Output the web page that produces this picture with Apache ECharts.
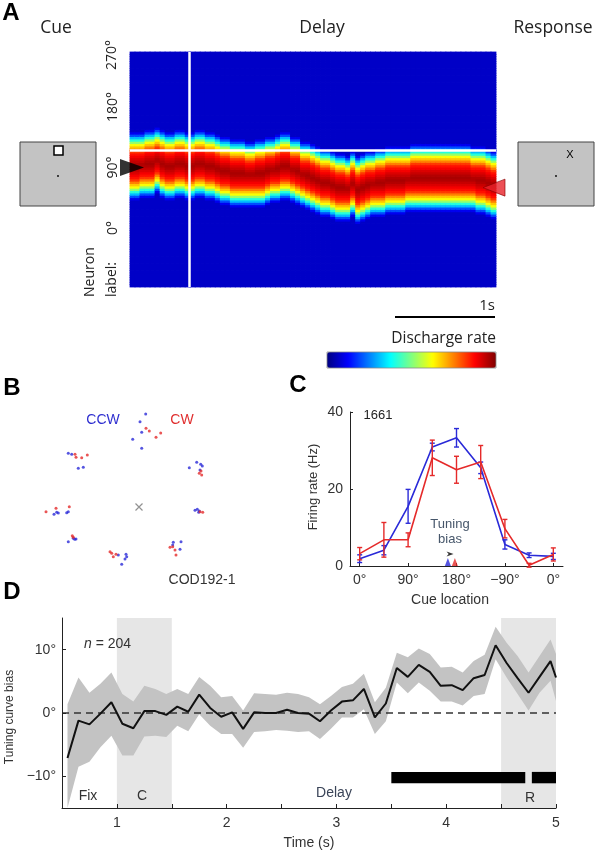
<!DOCTYPE html>
<html><head><meta charset="utf-8">
<script src="https://cdn.jsdelivr.net/npm/echarts@6/dist/echarts.min.js"></script>
<style>html,body{margin:0;padding:0;background:#fff}#c{width:596px;height:853px}</style>
</head><body><div id="c"></div>
<script>
// ---------------- Panel A: population activity ----------------
const aTimeStep = 0.05;             // s per time bin
const aBinDeg = 3.5;                // deg per neuron-label bin
const aDegMin = -88, aDegMax = 262;
// centre (deg) of the activity bump in each 50 ms bin
const bandCenterDeg = [92,93,94,95,97,101,97,92,92,96,96,92,93,96,95,93,91,88,86,85,83,82,81,80,80,81,83,85,87,89,91,92,87,84,80,77,75,72,69,67,64,62,60,59,66,58,62,64,66,67,69,70,70,71,72,73,74,75,75,76,75,74,74,75,76,76,75,74,73,72,70,67,64];
// discharge level as a function of distance from the bump centre (steps of aBinDeg)
const bumpProfile = [0.96,0.95,0.93,0.91,0.885,0.86,0.82,0.75,0.68,0.62,0.52,0.41,0.31,0.20,0.11];
const baseline = 0.07;
const cueDeg = 90, responseDeg = 60, cueEndTime = 0.59, refLineDeg = 115;
const aTickDeg = [0, 90, 180];

// ---------------- Panel B: saccade end points (relative to fixation) ----------------
const ccwPoints = [[6.7,93],[1,85.3],[2.7,74.7],[-6.3,67.7],[2.7,58.7],[-70.7,53.7],[-67.3,52.7],[-60.7,38.7],[-55.7,39.7],[50.3,39.3],[57.7,44.7],[61.7,42.7],[63.3,41],[61,37],[-85,-7.3],[-82.3,-5.3],[-80.7,-6],[-72.3,-5.7],[-70.7,-4.7],[56,-3.3],[58.3,-2.3],[60.3,-4],[59.7,-5.3],[-70.7,-34.7],[-65.7,-31.3],[-64.3,-32.3],[-63,-32],[-20.7,-48],[-13,-47.3],[-14,-52],[-17.3,-57.3],[-12.3,-49.7],[34.3,-35.3],[42,-34.7],[41,-42.3],[33.7,-38]];
const cwPoints = [[7,78.7],[10.3,76],[17,69.7],[21.7,74],[-64,52.7],[-63,49.7],[-57.3,49.3],[-51.7,52],[60.3,33.7],[62.7,32],[62,36],[-93,-4.7],[-83,-1.3],[-69.7,0.3],[61,-4.7],[63.7,-5.3],[-66.7,-28.7],[-65.7,-30.3],[-29,-44.7],[-27.3,-46.3],[-25.7,-49.7],[-23,-47.3],[31,-40.3],[33.7,-39.7],[36,-43],[37,-48]];

// ---------------- Panel C: tuning curves ----------------
const cueLocDeg = [0,45,90,135,180,225,270,315,360];
const cueTickValues = [0,90,180,270,360];
const cueTickLabels = ['0°','90°','180°','−90°','0°'];
const ccwRate = [1.9,4.1,15.5,30.9,33.3,25.5,5.6,2.8,2.5];
const ccwErr  = [1.0,1.2,4.4,1.0,2.4,1.5,1.2,0.6,0.8];
const cwRate  = [3.2,6.8,6.8,28.1,25.0,27.0,9.7,0.2,3.0];
const cwErr   = [1.6,4.5,1.8,4.6,3.5,4.3,2.4,0.5,1.7];
const ccwBiasDeg = 164, cwBiasDeg = 177, biasArrowDeg = 168;

// ---------------- Panel D: tuning curve bias over time ----------------
const biasTime  = [0.55,0.65,0.75,0.85,0.95,1.05,1.15,1.25,1.35,1.45,1.55,1.65,1.75,1.85,1.95,2.05,2.15,2.25,2.35,2.45,2.55,2.65,2.75,2.85,2.95,3.05,3.15,3.25,3.35,3.45,3.55,3.65,3.75,3.85,3.95,4.05,4.15,4.25,4.35,4.45,4.55,4.65,4.75,4.85,4.95,5.0];
const biasMean  = [-7.1,-1.2,-1.8,-0.1,1.7,-1.7,-2.4,0.3,0.3,-0.3,1.0,0.2,2.9,0.8,-0.6,0.1,-2.5,0.1,0.0,0.0,0.5,0.0,-0.1,-1.3,0.4,1.8,2.0,3.8,-0.7,1.5,7.1,5.7,7.6,6.5,4.3,4.4,3.6,5.5,6.0,10.7,7.9,5.5,3.2,5.7,8.2,5.6];
const biasUpper = [1.4,5.6,3.2,4.6,6.4,3.0,1.8,4.3,3.8,3.0,3.8,3.0,5.7,4.3,2.5,2.7,0.4,3.1,3.0,2.9,3.2,3.0,2.5,1.4,2.7,4.1,4.6,6.2,1.7,4.0,9.5,8.8,10.2,9.3,7.2,7.3,6.4,8.2,9.2,13.6,11.1,9.0,6.4,9.0,11.6,9.3];
const biasLower = [-15.5,-8.5,-7.7,-5.4,-3.6,-6.7,-6.7,-3.7,-3.6,-3.8,-2.0,-2.9,-0.2,-2.0,-3.3,-3.3,-5.5,-3.0,-2.9,-2.7,-2.8,-3.0,-2.9,-4.1,-2.5,-0.7,-0.7,0.6,-3.3,-1.3,4.8,3.1,4.8,3.5,1.8,1.8,1.2,2.7,3.0,8.5,5.6,3.0,0.4,3.2,5.1,1.9];
const epochShade = [[1.0,1.5],[4.5,5.0]];
const sigBars = [[3.5,4.72],[4.78,5.0]];
const sigBarY = [-9.3,-11.1];
const dTickLabels = [1,2,3,4,5];
const dMinorTicks = [1,1.5,2,2.5,3,3.5,4,4.5,5];
const dYTicks = [-10,0,10];

// ---------- build heatmap cells (lookup of profile by distance) ----------
const timeCats = bandCenterDeg.map((_, k) => (k * aTimeStep).toFixed(2));
const nDegBins = Math.round((aDegMax - aDegMin) / aBinDeg);
const degCats = [];
for (let j = 0; j < nDegBins; j++) degCats.push((aDegMin + aBinDeg * (j + 0.5)).toFixed(2));
const heatData = [];
for (let k = 0; k < bandCenterDeg.length; k++) {
  for (let j = 0; j < nDegBins; j++) {
    const d = Math.abs(parseFloat(degCats[j]) - bandCenterDeg[k]);
    const idx = Math.round(d / aBinDeg);
    heatData.push([k, j, idx < bumpProfile.length ? bumpProfile[idx] : baseline]);
  }
}
const jet = ['#000080','#0000ff','#0080ff','#00ffff','#80ff80','#ffff00','#ff8000','#ff0000','#800000'];

const FA = 'Open Sans', FS = 'Liberation Sans';
const blue = '#2a2ad8', red = '#e52a2a';

function errRender(rates, errs, color) {
  return function (params, api) {
    const i = params.dataIndex, x = cueLocDeg[i];
    const t = api.coord([x, rates[i] + errs[i]]);
    const b = api.coord([x, rates[i] - errs[i]]);
    const w = 2.5, st = {stroke: color, lineWidth: 1.4, fill: null};
    return {type: 'group', children: [
      {type: 'line', shape: {x1: t[0], y1: t[1], x2: b[0], y2: b[1]}, style: st},
      {type: 'line', shape: {x1: t[0]-w, y1: t[1], x2: t[0]+w, y2: t[1]}, style: st},
      {type: 'line', shape: {x1: b[0]-w, y1: b[1], x2: b[0]+w, y2: b[1]}, style: st}
    ]};
  };
}
function rtext(t, x, y, size, opts) {
  return {type: 'text', x: x, y: y, z: 100, rotation: Math.PI / 2, silent: true,
    style: Object.assign({text: t, fontSize: size, fontFamily: FA, fill: '#222', align: 'center', verticalAlign: 'middle'}, opts || {})};
}
function txt(t, x, y, size, opts) {
  return {type: 'text', x: x, y: y, z: 100, silent: true,
    style: Object.assign({text: t, fontSize: size, fontFamily: FS, fill: '#333', align: 'center', verticalAlign: 'middle'}, opts || {})};
}

const chart = echarts.init(document.getElementById('c'), null, {renderer: 'canvas'});
const axisBlack = {onZero: false, lineStyle: {color: '#222', width: 1}};
chart.setOption({
  animation: false,
  backgroundColor: '#fff',
  grid: [
    {left: 130, top: 52, width: 366, height: 235},
    {left: 130, top: 52, width: 366, height: 235},
    {left: 39, top: 407, width: 200, height: 200},
    {left: 350, top: 412, width: 213, height: 154},
    {left: 62, top: 618, width: 494, height: 190}
  ],
  xAxis: [
    {type: 'category', gridIndex: 0, data: timeCats, show: false},
    {type: 'value', gridIndex: 1, min: 0, max: 3.66, show: false},
    {type: 'value', gridIndex: 2, min: -100, max: 100, show: false},
    {type: 'value', gridIndex: 3, min: -18, max: 378, splitLine: {show: false},
     axisLine: axisBlack, axisTick: {inside: true, length: 3, customValues: cueTickValues, lineStyle: {color: '#222'}},
     axisLabel: {customValues: cueTickValues, formatter: v => cueTickLabels[cueTickValues.indexOf(v)], fontFamily: FS, fontSize: 14, color: '#333', margin: 7}},
    {type: 'value', gridIndex: 4, min: 0.5, max: 5, z: 10, splitLine: {show: false},
     axisLine: axisBlack, axisTick: {inside: true, length: 4, customValues: dMinorTicks, lineStyle: {color: '#222'}},
     axisLabel: {customValues: dTickLabels, fontFamily: FS, fontSize: 14, color: '#333', margin: 8}}
  ],
  yAxis: [
    {type: 'category', gridIndex: 0, data: degCats, show: false},
    {type: 'value', gridIndex: 1, min: aDegMin, max: aDegMax, splitLine: {show: false},
     axisLine: {show: false}, axisTick: {show: false},
     axisLabel: {customValues: aTickDeg, rotate: 90, formatter: v => v + '°', fontFamily: FA, fontSize: 14, color: '#222', margin: 10}},
    {type: 'value', gridIndex: 2, min: -100, max: 100, show: false},
    {type: 'value', gridIndex: 3, min: 0, max: 40, interval: 20, splitLine: {show: false},
     axisLine: {show: true, onZero: false, lineStyle: {color: '#222'}}, axisTick: {show: true, inside: true, length: 3, lineStyle: {color: '#222'}},
     axisLabel: {fontFamily: FS, fontSize: 14, color: '#333', margin: 7}},
    {type: 'value', gridIndex: 4, min: -15, max: 15, z: 10, splitLine: {show: false},
     axisLine: {show: true, onZero: false, lineStyle: {color: '#222'}}, axisTick: {show: true, inside: true, length: 4, customValues: dYTicks, lineStyle: {color: '#222'}},
     axisLabel: {customValues: dYTicks, formatter: v => (v < 0 ? '−' : '') + Math.abs(v) + '°', fontFamily: FS, fontSize: 14, color: '#333', margin: 6}}
  ],
  visualMap: {
    type: 'continuous', seriesIndex: 0, dimension: 2, min: 0, max: 1, orient: 'horizontal',
    left: 327, top: 352, itemWidth: 16, itemHeight: 169, padding: 0,
    calculable: false, hoverLink: false, inRange: {color: jet}
  },
  series: [
    {type: 'custom', xAxisIndex: 0, yAxisIndex: 0, data: heatData, silent: true, progressive: 0,
     encode: {x: 0, y: 1},
     renderItem: function (params, api) {
       const p = api.coord([api.value(0), api.value(1)]);
       const s = api.size([1, 1]);
       return {type: 'rect', shape: {x: p[0] - s[0] / 2 - 0.4, y: p[1] - s[1] / 2 - 0.4, width: s[0] + 0.8, height: s[1] + 0.8},
               style: {fill: api.visual('color')}};
     }},
    {type: 'scatter', xAxisIndex: 1, yAxisIndex: 1, z: 10, silent: true,
     data: [[0, cueDeg]], symbol: 'path://M0,0L10,5L0,10Z', symbolSize: [24, 17], symbolOffset: [2, 0],
     itemStyle: {color: '#000'},
     markLine: {silent: true, symbol: 'none', label: {show: false},
       lineStyle: {color: '#fff', width: 2.5, type: 'solid'},
       data: [{xAxis: cueEndTime}, {yAxis: refLineDeg}]}},
    {type: 'scatter', xAxisIndex: 1, yAxisIndex: 1, z: 10, silent: true,
     data: [[3.66, responseDeg]], symbol: 'path://M10,0L0,5L10,10Z', symbolSize: [22, 17], symbolOffset: [-2, 0],
     itemStyle: {color: '#e8232b', borderColor: '#8a0000', borderWidth: 0.8}},
    {type: 'scatter', xAxisIndex: 2, yAxisIndex: 2, data: ccwPoints, symbolSize: 3, itemStyle: {color: blue}, silent: true},
    {type: 'scatter', xAxisIndex: 2, yAxisIndex: 2, data: cwPoints, symbolSize: 3, itemStyle: {color: red}, silent: true},
    {type: 'scatter', xAxisIndex: 2, yAxisIndex: 2, data: [[0, 0]], symbol: 'path://M0,0L10,10M10,0L0,10', symbolSize: 7,
     itemStyle: {color: 'none', borderColor: '#777', borderWidth: 1.2}, silent: true},
    {type: 'line', xAxisIndex: 3, yAxisIndex: 3, data: cueLocDeg.map((x, i) => [x, ccwRate[i]]), symbol: 'none',
     lineStyle: {color: blue, width: 1.6}, z: 3, silent: true},
    {type: 'line', xAxisIndex: 3, yAxisIndex: 3, data: cueLocDeg.map((x, i) => [x, cwRate[i]]), symbol: 'none',
     lineStyle: {color: red, width: 1.6}, z: 4, silent: true},
    {type: 'custom', xAxisIndex: 3, yAxisIndex: 3, data: cueLocDeg.map((x, i) => [x, ccwRate[i]]), renderItem: errRender(ccwRate, ccwErr, blue), z: 3, silent: true},
    {type: 'custom', xAxisIndex: 3, yAxisIndex: 3, data: cueLocDeg.map((x, i) => [x, cwRate[i]]), renderItem: errRender(cwRate, cwErr, red), z: 4, silent: true},
    {type: 'scatter', xAxisIndex: 3, yAxisIndex: 3, silent: true, z: 6,
     data: [
       {value: [ccwBiasDeg, 0], itemStyle: {color: blue}, symbol: 'triangle', symbolSize: [6, 8], symbolOffset: [0, -4]},
       {value: [cwBiasDeg, 0], itemStyle: {color: red}, symbol: 'triangle', symbolSize: [6, 8], symbolOffset: [0, -4]},
       {value: [biasArrowDeg, 0], itemStyle: {color: '#000'}, symbol: 'path://M0,0L10,5L0,10L3,5Z', symbolSize: [7, 5], symbolOffset: [0, -12]}
     ]},
    {type: 'line', xAxisIndex: 4, yAxisIndex: 4, z: 1, silent: true, data: [], symbol: 'none',
     markArea: {silent: true, itemStyle: {color: '#e6e6e6'},
       data: epochShade.map(s => [{xAxis: s[0]}, {xAxis: s[1]}])}},
    {type: 'custom', xAxisIndex: 4, yAxisIndex: 4, z: 2, silent: true, data: [[1, 0]],
     renderItem: function (params, api) {
       const cs = params.coordSys, pts = [];
       for (let i = 0; i < biasTime.length; i++) pts.push(api.coord([biasTime[i], biasUpper[i]]));
       for (let i = biasTime.length - 1; i >= 0; i--) pts.push(api.coord([biasTime[i], biasLower[i]]));
       const cl = pts.map(p => [Math.max(cs.x, Math.min(cs.x + cs.width, p[0])), Math.max(cs.y, Math.min(cs.y + cs.height, p[1]))]);
       return {type: 'polygon', shape: {points: cl}, style: {fill: '#c3c3c3'}};
     }},
    {type: 'line', xAxisIndex: 4, yAxisIndex: 4, z: 3, silent: true, data: [[0.5, 0], [5, 0]], symbol: 'none',
     lineStyle: {color: '#333', width: 1.3, type: [7, 5]}},
    {type: 'line', xAxisIndex: 4, yAxisIndex: 4, z: 4, silent: true, data: biasTime.map((t, i) => [t, biasMean[i]]), symbol: 'none',
     lineStyle: {color: '#111', width: 2}},
    {type: 'custom', xAxisIndex: 4, yAxisIndex: 4, z: 5, silent: true, data: sigBars,
     renderItem: function (params, api) {
       const s = sigBars[params.dataIndex];
       const p1 = api.coord([s[0], sigBarY[0]]), p2 = api.coord([s[1], sigBarY[1]]);
       return {type: 'rect', shape: {x: p1[0], y: p1[1], width: p2[0] - p1[0], height: p2[1] - p1[1]}, style: {fill: '#000'}};
     }}
  ],
  graphic: [
    // Panel A
    txt('A', 11, 13, 24, {fontWeight: 'bold', fill: '#000'}),
    txt('Cue', 56, 28, 17.5, {fontFamily: FA, fill: '#222'}),
    txt('Delay', 322, 28, 17.5, {fontFamily: FA, fill: '#222'}),
    txt('Response', 553, 28, 17.5, {fontFamily: FA, fill: '#222'}),
    {type: 'rect', z: 100, shape: {x: 20, y: 142, width: 76, height: 64}, style: {fill: '#c3c3c3', stroke: '#444', lineWidth: 1}, silent: true},
    {type: 'rect', z: 101, shape: {x: 54, y: 146, width: 9, height: 9}, style: {fill: '#fff', stroke: '#000', lineWidth: 1.5}, silent: true},
    {type: 'circle', z: 101, shape: {cx: 58, cy: 176, r: 0.9}, style: {fill: '#000'}, silent: true},
    {type: 'rect', z: 100, shape: {x: 518, y: 142, width: 76, height: 64}, style: {fill: '#c3c3c3', stroke: '#444', lineWidth: 1}, silent: true},
    Object.assign(txt('X', 570, 155, 11, {fontFamily: FS, fill: '#000'}), {z: 101}),
    {type: 'circle', z: 101, shape: {cx: 556, cy: 176, r: 0.9}, style: {fill: '#000'}, silent: true},
    rtext('270°', 112, 55, 14),
    rtext('Neuron', 90, 297, 14, {align: 'left'}),
    rtext('label:', 112, 297, 14, {align: 'left'}),
    {type: 'line', z: 100, shape: {x1: 395, y1: 317, x2: 495, y2: 317}, style: {stroke: '#000', lineWidth: 2}, silent: true},
    txt('1s', 495, 306, 15, {fontFamily: FA, align: 'right', fill: '#222'}),
    txt('Discharge rate', 496, 339, 15.5, {fontFamily: FA, align: 'right', fill: '#222'}),
    {type: 'rect', z: 100, shape: {x: 327, y: 352, width: 169, height: 16}, style: {fill: null, stroke: '#888', lineWidth: 0.8}, silent: true},
    // Panel B
    txt('B', 12, 388, 24, {fontWeight: 'bold', fill: '#000'}),
    txt('CCW', 103, 420, 14, {fill: '#3030d0'}),
    txt('CW', 182, 420, 14, {fill: '#e03030'}),
    txt('COD192-1', 202, 580, 14, {fill: '#333'}),
    // Panel C
    txt('C', 298, 385, 24, {fontWeight: 'bold', fill: '#000'}),
    txt('1661', 378, 415, 13, {fill: '#222'}),
    rtext('Firing rate (Hz)', 313, 487, 13, {fontFamily: FS, fill: '#333'}),
    txt('Tuning', 450, 524, 13, {fill: '#46566a'}),
    txt('bias', 450, 539, 13, {fill: '#46566a'}),
    txt('Cue location', 450, 600, 14, {fill: '#333'}),
    // Panel D
    txt('D', 12, 592, 24, {fontWeight: 'bold', fill: '#000'}),
    rtext('Tuning curve bias', 10, 717, 12, {fontFamily: FS, fill: '#333'}),
    {type: 'text', x: 84, y: 644, z: 100, silent: true,
     style: {text: '{i|n} = 204', fontSize: 14, fontFamily: FS, fill: '#333', align: 'left', verticalAlign: 'middle',
       rich: {i: {fontStyle: 'italic', fontSize: 14, fontFamily: FS, fill: '#333'}}}},
    txt('Fix', 88, 796, 14),
    txt('C', 142, 796, 14),
    txt('Delay', 334, 793, 14, {fill: '#3a4458'}),
    txt('R', 530, 798, 14),
    txt('Time (s)', 309, 843, 14)
  ]
});
</script>
</body></html>
